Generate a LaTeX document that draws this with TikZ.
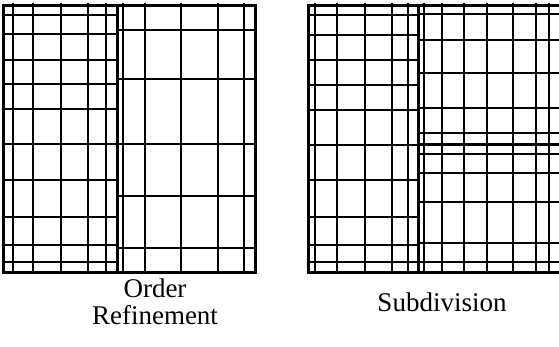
\documentclass[tikz,border=0pt]{standalone}
\usepackage{fontspec}
\setmainfont{Liberation Serif}
\begin{document}
\begin{tikzpicture}[x=1pt,y=-1pt,
  gridline/.style={line width=1.4pt,line cap=rect},
  frameline/.style={line width=3pt,line cap=rect},
  caption/.style={font=\fontsize{27}{27}\selectfont,align=center,inner sep=0pt}]
\useasboundingbox (0,0) rectangle (559,347);
\clip (0,0) rectangle (559,347);
% ---------- Left panel: order refinement ----------
\foreach \x in {13,33,61,88,106} \draw[gridline] (\x,4) -- (\x,272);
\foreach \y in {15,34,60,84,109,144,180,217,245,262} \draw[gridline] (3,\y) -- (117,\y);
\foreach \x in {123,145,181,218,244} \draw[gridline] (\x,4) -- (\x,272);
\foreach \y in {30,79,144,196,248} \draw[gridline] (117,\y) -- (255,\y);
\draw[frameline] (117,6) -- (117,272);
\draw[frameline] (3,6) rectangle (255,272);
% ---------- Right panel: subdivision ----------
\foreach \x in {315,337,365,392,408} \draw[gridline] (\x,4) -- (\x,272);
\foreach \y in {15,35,60,85,110,145,180,217,245,262} \draw[gridline] (308,\y) -- (418,\y);
\foreach \x in {424,442,464,487,513,536,549} \draw[gridline] (\x,4) -- (\x,272);
\foreach \y in {14,40,73,108,133,154,173,202,243,262} \draw[gridline] (418,\y) -- (570,\y);
\draw[frameline] (418,145) -- (570,145);
\draw[frameline] (418,6) -- (418,272);
\draw[frameline] (308,6) rectangle (566,272);
% ---------- Captions ----------
\node[caption,anchor=north] (lcap) at (155,279) {Order\\Refinement};
\node[caption,anchor=base] (rcap) at (442,311) {Subdivision};
\end{tikzpicture}
\end{document}
